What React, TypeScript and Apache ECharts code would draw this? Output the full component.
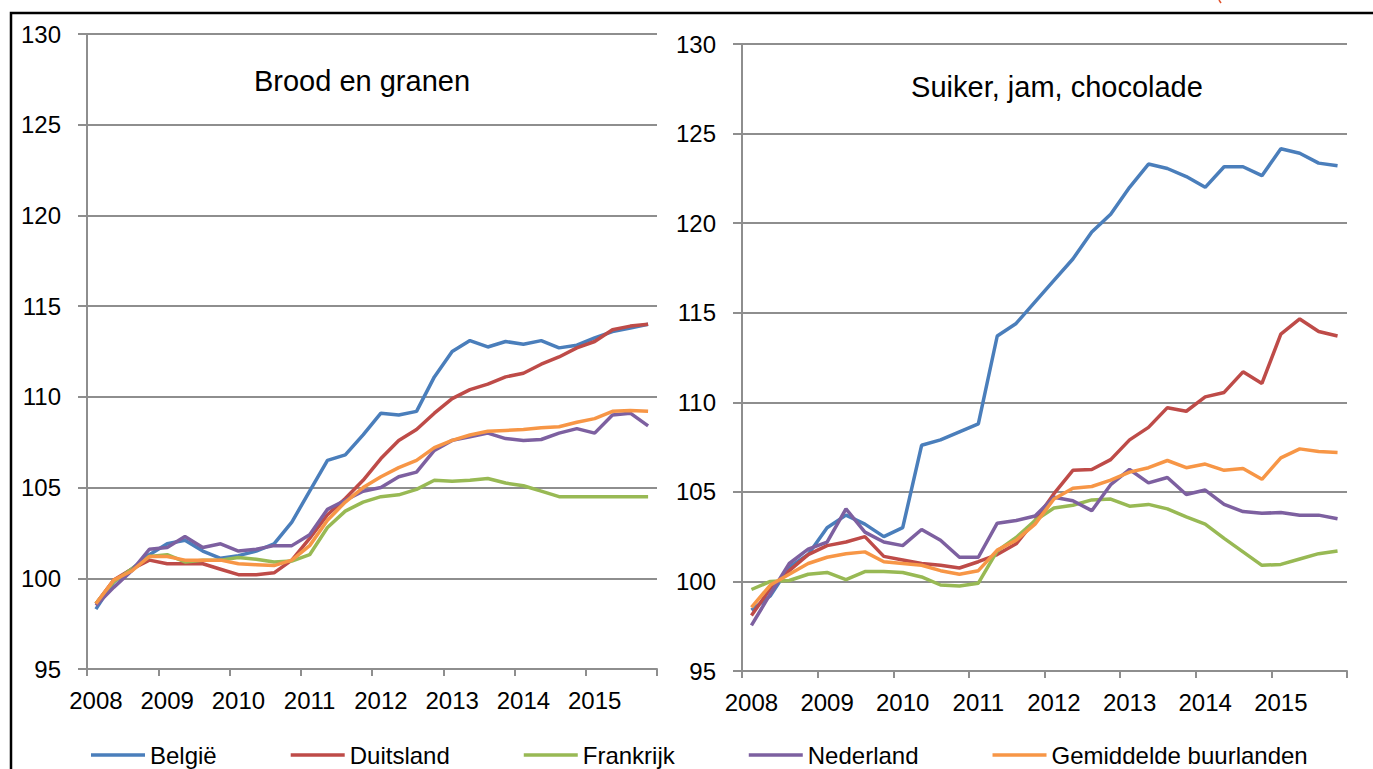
import React, { useEffect, useRef } from "react";
import * as echarts from "echarts";

const years = ["2008", "2009", "2010", "2011", "2012", "2013", "2014", "2015"];
const quarters = years.flatMap((y) => ["K1", "K2", "K3", "K4"].map((q) => `${y} ${q}`));

const seriesNames = ["België", "Duitsland", "Frankrijk", "Nederland", "Gemiddelde buurlanden"];
const seriesColors = ["#4A7EBB", "#BE4B48", "#98B954", "#7D60A0", "#F79646"];

const panelTitles = ["Brood en granen", "Suiker, jam, chocolade"];

// Brood en granen
const belgieBrood = [98.3, 99.8, 100.5, 101.3, 101.9, 102.1, 101.5, 101.1, 101.25, 101.5, 101.9, 103.1, 104.8, 106.5, 106.8, 107.9, 109.1, 109.0, 109.2, 111.1, 112.5, 113.1, 112.75, 113.05, 112.9, 113.1, 112.7, 112.85, 113.25, 113.6, 113.8, 114.0];
const duitslandBrood = [98.6, 99.9, 100.5, 101.0, 100.8, 100.8, 100.8, 100.5, 100.2, 100.2, 100.3, 101.0, 102.2, 103.5, 104.4, 105.4, 106.6, 107.6, 108.2, 109.1, 109.9, 110.4, 110.7, 111.1, 111.3, 111.8, 112.2, 112.7, 113.05, 113.7, 113.9, 114.0];
const frankrijkBrood = [98.6, 99.8, 100.5, 101.2, 101.3, 100.9, 101.0, 101.0, 101.15, 101.05, 100.9, 100.95, 101.3, 102.8, 103.7, 104.2, 104.5, 104.6, 104.9, 105.4, 105.35, 105.4, 105.5, 105.25, 105.1, 104.8, 104.5, 104.5, 104.5, 104.5, 104.5, 104.5];
const nederlandBrood = [98.5, 99.5, 100.4, 101.6, 101.7, 102.3, 101.7, 101.9, 101.5, 101.6, 101.8, 101.8, 102.4, 103.8, 104.3, 104.8, 105.0, 105.6, 105.85, 107.05, 107.6, 107.8, 108.0, 107.7, 107.6, 107.65, 108.0, 108.25, 108.0, 109.0, 109.1, 108.4];
const gemiddeldeBrood = [98.6, 99.9, 100.4, 101.2, 101.2, 101.0, 101.0, 101.0, 100.8, 100.75, 100.7, 101.0, 101.8, 103.2, 104.2, 105.0, 105.6, 106.1, 106.5, 107.2, 107.6, 107.9, 108.1, 108.15, 108.2, 108.3, 108.35, 108.6, 108.8, 109.2, 109.25, 109.2];

// Suiker, jam, chocolade
const belgieSuiker = [98.4, 99.2, 100.8, 101.5, 103.0, 103.7, 103.2, 102.5, 103.0, 107.6, 107.9, 108.35, 108.8, 113.7, 114.4, 115.6, 116.8, 118.0, 119.5, 120.5, 122.0, 123.3, 123.05, 122.6, 122.0, 123.15, 123.15, 122.65, 124.15, 123.9, 123.35, 123.2];
const duitslandSuiker = [98.1, 99.6, 100.6, 101.5, 102.0, 102.2, 102.5, 101.4, 101.2, 101.0, 100.9, 100.75, 101.1, 101.5, 102.1, 103.4, 104.9, 106.2, 106.25, 106.8, 107.9, 108.6, 109.7, 109.5, 110.3, 110.55, 111.7, 111.05, 113.8, 114.65, 113.95, 113.7];
const frankrijkSuiker = [99.55, 100.0, 100.05, 100.4, 100.5, 100.1, 100.55, 100.55, 100.5, 100.25, 99.8, 99.75, 99.9, 101.7, 102.45, 103.4, 104.1, 104.25, 104.55, 104.6, 104.2, 104.3, 104.05, 103.6, 103.2, 102.4, 101.65, 100.9, 100.95, 101.25, 101.55, 101.7];
const nederlandSuiker = [97.55, 99.3, 101.0, 101.8, 102.2, 104.05, 102.75, 102.2, 102.0, 102.9, 102.3, 101.35, 101.35, 103.25, 103.4, 103.65, 104.7, 104.5, 103.95, 105.4, 106.25, 105.5, 105.8, 104.85, 105.1, 104.3, 103.9, 103.8, 103.85, 103.7, 103.7, 103.5];
const gemiddeldeSuiker = [98.55, 99.8, 100.4, 101.0, 101.35, 101.55, 101.65, 101.1, 101.0, 100.9, 100.6, 100.4, 100.6, 101.75, 102.3, 103.2, 104.6, 105.2, 105.3, 105.65, 106.1, 106.35, 106.75, 106.35, 106.55, 106.2, 106.3, 105.7, 106.9, 107.4, 107.25, 107.2];

const panelData = [
  [belgieBrood, duitslandBrood, frankrijkBrood, nederlandBrood, gemiddeldeBrood],
  [belgieSuiker, duitslandSuiker, frankrijkSuiker, nederlandSuiker, gemiddeldeSuiker],
];

const FONT = "'Liberation Sans', Arial, sans-serif";
const GRID_COLOR = "#8e8e8e";

export default function App() {
  const ref = useRef<HTMLDivElement>(null);

  useEffect(() => {
    if (!ref.current) return;
    const chart = echarts.init(ref.current, undefined, { renderer: "svg" });

    const grids = [
      { left: 87, top: 34, width: 570, height: 635 },
      { left: 742, top: 44, width: 605, height: 627 },
    ];

    const xAxes = grids.map((_, gi) => ({
      type: "category",
      gridIndex: gi,
      data: quarters,
      boundaryGap: true,
      axisLine: { show: true, lineStyle: { color: GRID_COLOR, width: 2 } },
      axisTick: { show: true, interval: 3, length: 7, lineStyle: { color: GRID_COLOR, width: 2 } },
      axisLabel: {
        interval: 3,
        formatter: (v: string) => v.slice(0, 4),
        fontSize: 24,
        color: "#000",
        fontFamily: FONT,
        margin: 19,
      },
      splitLine: { show: false },
    }));

    const yAxes = grids.map((_, gi) => ({
      type: "value",
      gridIndex: gi,
      min: 95,
      max: 130,
      interval: 5,
      axisLine: { show: true, lineStyle: { color: GRID_COLOR, width: 2 } },
      axisTick: { show: true, length: 9, lineStyle: { color: GRID_COLOR, width: 2 } },
      axisLabel: { fontSize: 24, color: "#000", fontFamily: FONT, margin: 26 },
      splitLine: { show: true, lineStyle: { color: GRID_COLOR, width: 2 } },
    }));

    const series: any[] = [];
    panelData.forEach((panel, gi) => {
      panel.forEach((values, si) => {
        series.push({
          type: "line",
          name: seriesNames[si],
          xAxisIndex: gi,
          yAxisIndex: gi,
          data: values,
          symbol: "none",
          smooth: false,
          color: seriesColors[si],
          lineStyle: { width: 3.5, color: seriesColors[si] },
        });
      });
    });

    chart.setOption({
      animation: false,
      backgroundColor: "#fff",
      grid: grids,
      xAxis: xAxes,
      yAxis: yAxes,
      series,
      legend: {
        data: seriesNames,
        left: 91,
        top: 743,
        padding: 0,
        icon: "rect",
        itemWidth: 54,
        itemHeight: 3.5,
        itemGap: 74,
        textStyle: { fontSize: 24, color: "#000", fontFamily: FONT },
      },
      graphic: [
        {
          type: "rect",
          shape: { x: 11, y: 13, width: 1420, height: 820 },
          style: { fill: "none", stroke: "#000", lineWidth: 2.5 },
          silent: true,
        },
        {
          type: "line",
          shape: { x1: 1219, y1: 0, x2: 1221, y2: 3 },
          style: { stroke: "#e0502a", lineWidth: 1.5 },
          silent: true,
        },
        {
          type: "text",
          x: 362,
          y: 81,
          style: {
            text: panelTitles[0],
            fontSize: 29,
            fontFamily: FONT,
            fill: "#000",
            align: "center",
            verticalAlign: "middle",
          },
        },
        {
          type: "text",
          x: 1057,
          y: 87,
          style: {
            text: panelTitles[1],
            fontSize: 29,
            fontFamily: FONT,
            fill: "#000",
            align: "center",
            verticalAlign: "middle",
          },
        },
      ],
    });

    return () => chart.dispose();
  }, []);

  return (
    <div
      ref={ref}
      style={{ position: "absolute", left: 0, top: 0, width: 1373, height: 769 }}
    />
  );
}
